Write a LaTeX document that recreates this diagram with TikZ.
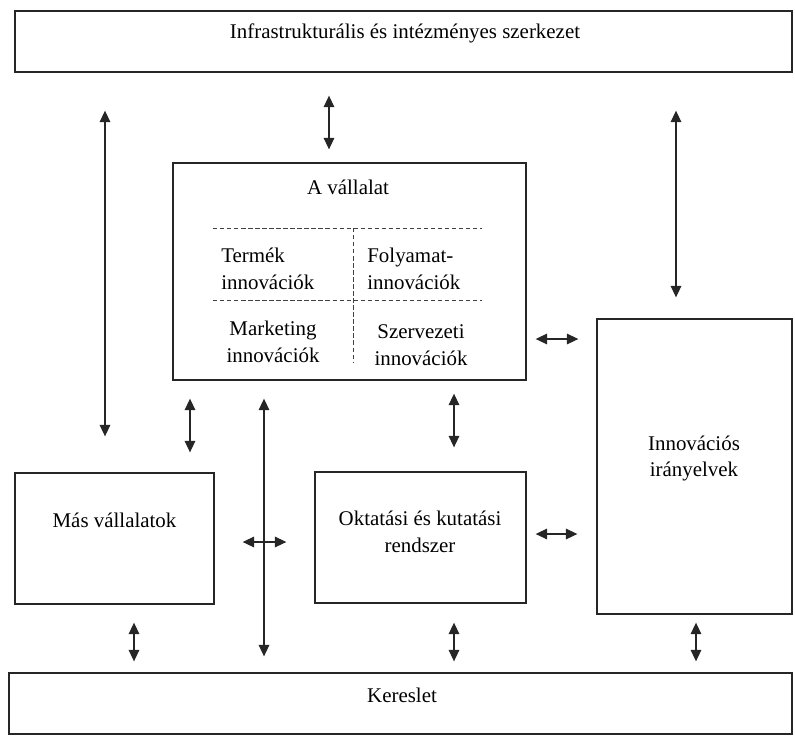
\documentclass[tikz,border=0pt]{standalone}
\usepackage{fontspec}
\setmainfont{Liberation Serif}
\usetikzlibrary{arrows.meta}

\tikzset{
  box/.style 2 args={draw=black!85, line width=0.75pt, minimum width=#1*0.2mm, minimum height=#2*0.2mm, inner sep=0pt},
  txt/.style={align=center, inner sep=0pt, font=\fontsize{11.9}{15.3}\selectfont},
  link/.style={black!85, line width=0.7pt, {Triangle[length=6.5pt,width=6pt]}-{Triangle[length=6.5pt,width=6pt]}},
  part/.style={black!75, line width=0.5pt, dash pattern=on 2.5pt off 1.5pt}
}

\begin{document}
\begin{tikzpicture}[x=0.2mm, y=-0.2mm]
  \useasboundingbox (0,0) rectangle (795,735);

  % Boxes
  \node[box={777}{61}] (infra) at (403.5,41.5) {};
  \node[box={353}{217}] (ceg) at (349.5,271.5) {};
  \node[box={199}{131}] (mas) at (114.5,538.5) {};
  \node[box={211}{131}] (okt) at (420.5,537.5) {};
  \node[box={195}{295}] (irany) at (694.5,466.5) {};
  \node[box={783}{61}] (kereslet) at (400.5,703.5) {};

  % Box texts
  \node[txt] (infratxt) at (405,33) {Infrastrukturális és intézményes szerkezet};
  \node[txt] (cegtxt) at (348,187) {A vállalat};
  \node[txt] (mastxt) at (114.5,520) {Más vállalatok};
  \node[txt] (okttxt) at (420,532) {Oktatási és kutatási\\rendszer};
  \node[txt] (iranytxt) at (694,458.5) {Innovációs\\irányelvek};
  \node[txt] (kereslettxt) at (402,695) {Kereslet};

  % Inside the firm
  \draw[part] (213,228) -- (482,228);
  \draw[part] (213,300) -- (482,300);
  \draw[part] (353,228) -- (353,362);
  \node[txt, align=left, anchor=west] (termek) at (221,269) {Termék\\innovációk};
  \node[txt, align=left, anchor=west] (folyamat) at (367,269) {Folyamat-\\innovációk};
  \node[txt] (marketing) at (273,341.5) {Marketing\\innovációk};
  \node[txt] (szervezeti) at (421,345) {Szervezeti\\innovációk};

  % Arrows
  \draw[link, shorten <=7.6mm, shorten >=7.2mm] (105,0 |- infra.south) -- (105,0 |- mas.north);
  \draw[link, shorten <=4.6mm, shorten >=2.6mm] (329,0 |- infra.south) -- (329,0 |- ceg.north);
  \draw[link, shorten <=7.6mm, shorten >=4.2mm] (676,0 |- infra.south) -- (676,0 |- irany.north);
  \draw[link, shorten <=3.6mm, shorten >=4mm] (190,0 |- ceg.south) -- (190,0 |- mas.north);
  \draw[link, shorten <=3.6mm, shorten >=3.2mm] (264,0 |- ceg.south) -- (264,0 |- kereslet.north);
  \draw[link, shorten <=2.6mm, shorten >=4.8mm] (454,0 |- ceg.south) -- (454,0 |- okt.north);
  \draw[link, shorten <=5.6mm, shorten >=5.6mm] (0,542 -| mas.east) -- (0,542 -| okt.west);
  \draw[link, shorten <=1.8mm, shorten >=3.6mm] (0,339 -| ceg.east) -- (0,339 -| irany.west);
  \draw[link, shorten <=1.8mm, shorten >=3.8mm] (0,534 -| okt.east) -- (0,534 -| irany.west);
  \draw[link, shorten <=3.6mm, shorten >=2.2mm] (134,0 |- mas.south) -- (134,0 |- kereslet.north);
  \draw[link, shorten <=3.8mm, shorten >=2.2mm] (454,0 |- okt.south) -- (454,0 |- kereslet.north);
  \draw[link, shorten <=1.6mm, shorten >=2.2mm] (696,0 |- irany.south) -- (696,0 |- kereslet.north);
\end{tikzpicture}
\end{document}
